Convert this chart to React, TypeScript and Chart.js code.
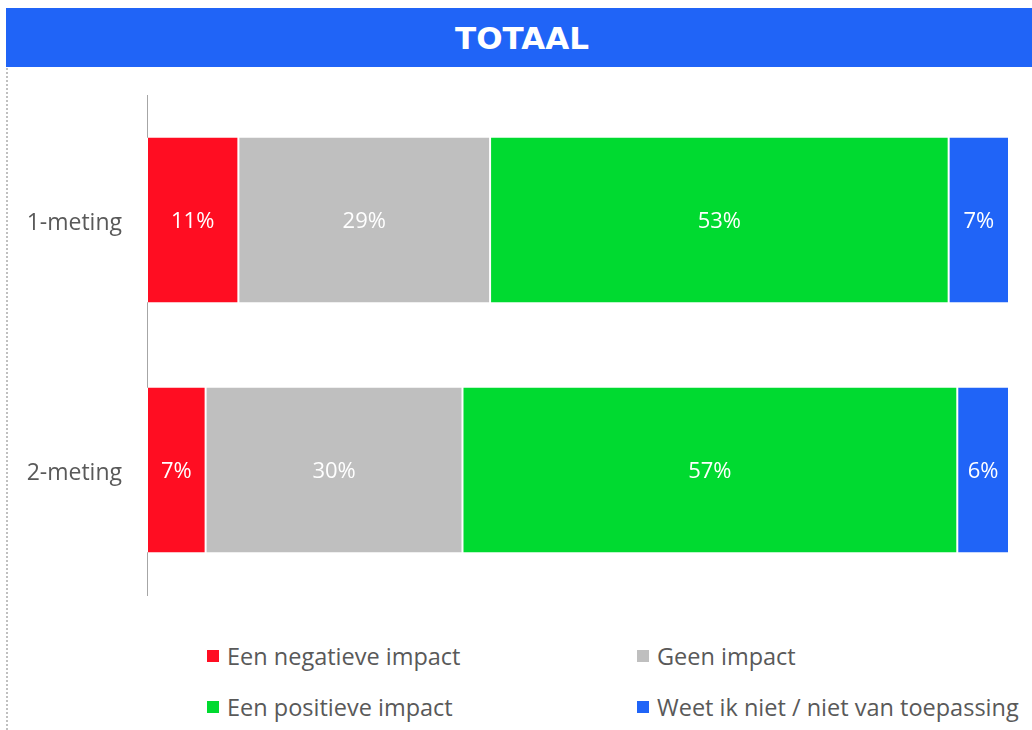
import React, { useEffect, useRef } from "react";
import { Chart, registerables } from "chart.js";

Chart.register(...registerables);

const categories = ["1-meting", "2-meting"];
const seriesNames = [
  "Een negatieve impact",
  "Geen impact",
  "Een positieve impact",
  "Weet ik niet / niet van toepassing",
];
const negatief = [10.6, 6.8];
const geen = [29.2, 29.8];
const positief = [53.2, 57.4];
const weetNiet = [7.0, 6.0];
const labelsNegatief = ["11%", "7%"];
const labelsGeen = ["29%", "30%"];
const labelsPositief = ["53%", "57%"];
const labelsWeetNiet = ["7%", "6%"];
const colors = ["#FF0D22", "#BFBFBF", "#00DA30", "#2064F7"];

const FONT = "'Open Sans', sans-serif";

const dataLabelPlugin = {
  id: "dataLabels",
  afterDatasetsDraw(chart: any) {
    const ctx = chart.ctx;
    ctx.save();
    ctx.font = `22px ${FONT}`;
    ctx.fillStyle = "#ffffff";
    ctx.textAlign = "center";
    ctx.textBaseline = "middle";
    chart.data.datasets.forEach((ds: any, i: number) => {
      const meta = chart.getDatasetMeta(i);
      meta.data.forEach((bar: any, j: number) => {
        const c = bar.getCenterPoint();
        ctx.fillText(ds.valueLabels[j], c.x, c.y + 2);
      });
    });
    ctx.restore();
  },
};

export default function App() {
  const ref = useRef<HTMLCanvasElement>(null);
  useEffect(() => {
    const values = [negatief, geen, positief, weetNiet];
    const vlabels = [labelsNegatief, labelsGeen, labelsPositief, labelsWeetNiet];
    const chart = new Chart(ref.current!, {
      type: "bar",
      data: {
        labels: categories,
        datasets: seriesNames.map((name, i) => ({
          label: name,
          data: values[i],
          backgroundColor: colors[i],
          borderColor: "#ffffff",
          borderWidth: { left: 1, right: 1, top: 0, bottom: 0 },
          borderSkipped: false,
          barPercentage: 0.66,
          categoryPercentage: 1,
          valueLabels: vlabels[i],
        })) as any,
      },
      options: {
        indexAxis: "y",
        animation: false,
        responsive: false,
        maintainAspectRatio: false,
        layout: { padding: { top: 27, bottom: 5, right: 23, left: 0 } },
        plugins: { legend: { display: false }, tooltip: { enabled: false } },
        scales: {
          x: { stacked: true, min: 0, max: 100, display: false },
          y: {
            stacked: true,
            grid: { display: false, drawTicks: false },
            border: { display: true, color: "#a6a6a6", width: 1 },
            ticks: { color: "#595959", font: { family: FONT, size: 23 }, padding: 25, labelOffset: 3 },
            afterFit: (scale: any) => {
              scale.width = 147;
              scale.paddingTop = 0;
              scale.paddingBottom = 0;
            },
          },
        },
      },
      plugins: [dataLabelPlugin],
    });
    return () => chart.destroy();
  }, []);

  const legendItem = (i: number, left: number, top: number) => (
    <div
      key={i}
      style={{
        position: "absolute",
        left,
        top,
        display: "flex",
        alignItems: "center",
        fontFamily: FONT,
        fontSize: 23.5,
        color: "#595959",
        whiteSpace: "nowrap",
        lineHeight: "26px",
      }}
    >
      <span style={{ display: "inline-block", width: 12, height: 12, background: colors[i], marginRight: 8 }} />
      {seriesNames[i]}
    </div>
  );

  return (
    <div style={{ position: "fixed", left: 0, top: 0, width: 1032, height: 730, background: "#fff", overflow: "hidden" }}>
      <div
        style={{
          position: "absolute",
          left: 6,
          top: 8,
          width: 1026,
          height: 59,
          background: "#2064F7",
          color: "#fff",
          fontFamily: "'DejaVu Sans', sans-serif",
          fontWeight: "bold",
          fontSize: 31,
          display: "flex",
          alignItems: "center",
          justifyContent: "center",
          paddingLeft: 6,
          boxSizing: "border-box",
        }}
      >
        TOTAAL
      </div>
      <div style={{ position: "absolute", left: 6, top: 68, height: 662, borderLeft: "2px dotted #c0c0c0" }} />
      <canvas ref={ref} width={1032} height={532} style={{ position: "absolute", left: 0, top: 68, width: 1032, height: 532 }} />
      {legendItem(0, 207, 643)}
      {legendItem(1, 637, 643)}
      {legendItem(2, 207, 694)}
      {legendItem(3, 637, 694)}
    </div>
  );
}
